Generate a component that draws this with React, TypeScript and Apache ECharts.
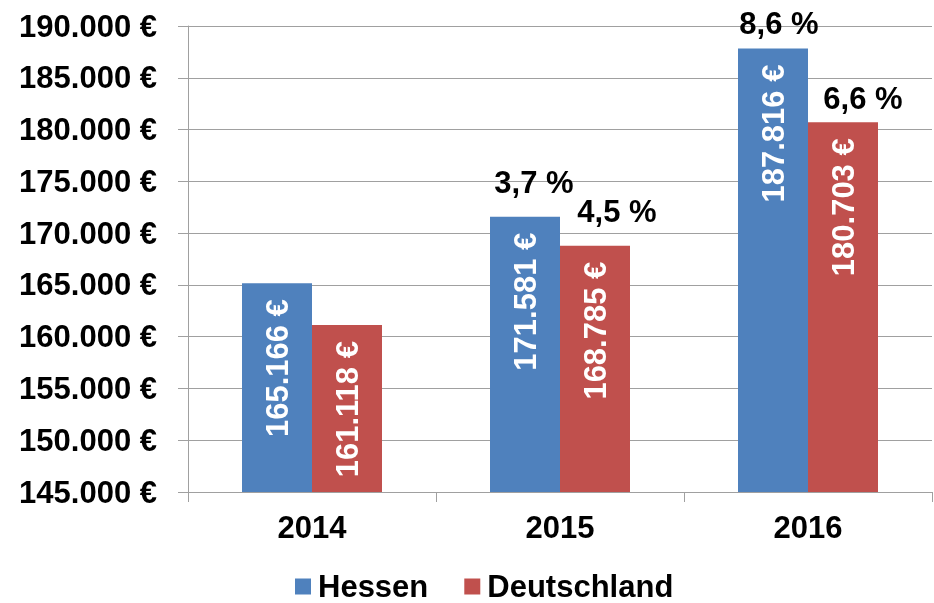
import React, { useEffect, useRef } from "react";
import * as echarts from "echarts";

const years = ["2014", "2015", "2016"];
const hessen = [165166, 171581, 187816];
const deutschland = [161118, 168785, 180703];
const hessenGrowth = ["", "3,7 %", "8,6 %"];
const deutschlandGrowth = ["", "4,5 %", "6,6 %"];

// label placement tweaks (layout, not data)
const hessenPctShift = [[0, 0], [9, -19], [6, -10]];
const deutschlandPctShift = [[0, 0], [22, -19], [20, -8]];

const FONT = "'Liberation Sans', Arial, sans-serif";
const BLUE = "#4F81BD";
const RED = "#C0504D";
const GRID = "#A0A0A0";

const fmt = (v: number) =>
  String(Math.round(v)).replace(/\B(?=(\d{3})+(?!\d))/g, ".") + " €";

export default function App() {
  const ref = useRef<HTMLDivElement>(null);
  useEffect(() => {
    if (!ref.current) return;
    const chart = echarts.init(ref.current, null, { renderer: "svg" });
    const valueLabel = {
      show: true,
      position: "insideTop",
      distance: 16,
      rotate: 90,
      align: "right",
      verticalAlign: "middle",
      color: "#fff",
      fontWeight: "bold",
      fontSize: 31,
      fontFamily: FONT,
      formatter: (p: any) => fmt(p.value),
    };
    const pctSeries = (name: string, stack: string, texts: string[], shifts: number[][]) => ({
      name,
      type: "bar",
      stack,
      barWidth: 70,
      barGap: "0%",
      data: texts.map((_, i) => ({
        value: 0,
        label: { offset: shifts[i] },
      })),
      itemStyle: { color: "rgba(0,0,0,0)" },
      label: {
        show: true,
        position: "top",
        distance: 0,
        color: "#000",
        fontWeight: "bold",
        fontSize: 31,
        fontFamily: FONT,
        formatter: (p: any) => texts[p.dataIndex],
      },
      silent: true,
    });
    chart.setOption({
      animation: false,
      textStyle: { fontFamily: FONT },
      grid: { left: 188, right: 2, top: 26, bottom: 111, containLabel: false },
      legend: {
        data: ["Hessen", "Deutschland"],
        left: 290,
        top: 566,
        icon: "rect",
        itemWidth: 16,
        itemHeight: 16,
        itemGap: 36,
        textStyle: {
          fontSize: 31,
          fontWeight: "bold",
          color: "#000",
          fontFamily: FONT,
          padding: [0, 0, 0, 2],
        },
      },
      xAxis: {
        type: "category",
        data: years,
        axisLine: { show: true, lineStyle: { color: GRID, width: 1 } },
        axisTick: { show: true, length: 10, lineStyle: { color: GRID } },
        axisLabel: {
          margin: 20,
          fontSize: 31,
          fontWeight: "bold",
          color: "#000",
          fontFamily: FONT,
        },
      },
      yAxis: {
        type: "value",
        min: 145000,
        max: 190000,
        interval: 5000,
        axisLine: { show: true, lineStyle: { color: GRID, width: 1 } },
        axisTick: { show: true, length: 10, lineStyle: { color: GRID } },
        splitLine: { show: true, lineStyle: { color: GRID, width: 1 } },
        axisLabel: {
          margin: 31,
          fontSize: 31,
          fontWeight: "bold",
          color: "#000",
          fontFamily: FONT,
          formatter: (v: number) => fmt(v),
        },
      },
      series: [
        {
          name: "Hessen",
          type: "bar",
          stack: "h",
          barWidth: 70,
          barGap: "0%",
          data: hessen,
          itemStyle: { color: BLUE },
          label: valueLabel,
        },
        pctSeries("HessenPct", "h", hessenGrowth, hessenPctShift),
        {
          name: "Deutschland",
          type: "bar",
          stack: "d",
          barWidth: 70,
          barGap: "0%",
          data: deutschland,
          itemStyle: { color: RED },
          label: valueLabel,
        },
        pctSeries("DeutschlandPct", "d", deutschlandGrowth, deutschlandPctShift),
      ],
    });
    return () => chart.dispose();
  }, []);
  return (
    <div
      ref={ref}
      style={{ position: "fixed", left: 0, top: 0, width: 934, height: 603 }}
    />
  );
}
